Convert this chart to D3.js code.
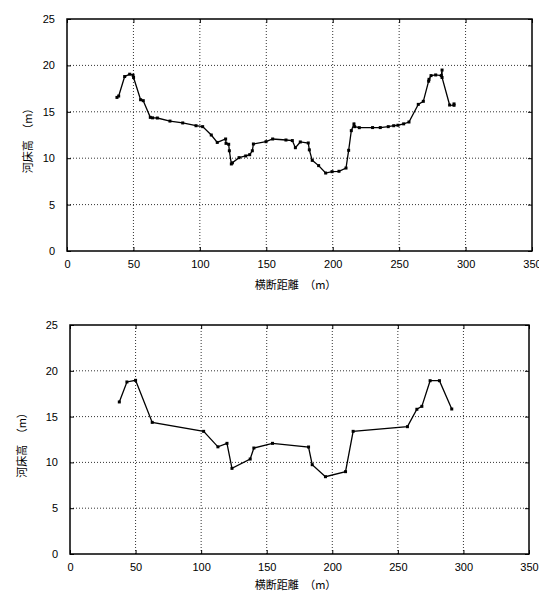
<html>
<head>
<meta charset="utf-8">
<title>河床高 横断図</title>
<script src="https://d3js.org/d3.v7.min.js"></script>
<style>
  body { margin: 0; background: #fff; }
  .tick text { font-family: "Liberation Sans", Arial, sans-serif; font-size: 11px; fill: #000; }
  .lbl { font-family: "Noto Sans CJK JP", sans-serif; font-size: 11px; fill: #000; }
</style>
</head>
<body>
<div id="chart"></div>
<script>

// measured survey points (upper panel, all points)
var topX = [37.6, 38.9, 43.4, 47.2, 49.7, 50.1, 55.4, 57.4, 62.7, 64.4, 68.0, 77.5, 87.1, 97.1, 102.1,
            108.6, 113.1, 119.4, 119.7, 121.7, 122.2, 123.7, 124.5, 129.5, 134.5, 137.5, 139.5, 140.3,
            149.8, 154.8, 164.8, 169.6, 171.9, 175.6, 181.6, 182.4, 184.6, 189.4, 194.7, 199.5, 204.7,
            210.0, 212.0, 214.0, 216.0, 216.5, 220.0, 230.0, 235.8, 241.8, 245.9, 249.1, 253.4, 257.4,
            264.4, 268.2, 272.2, 272.5, 274.0, 277.5, 281.7, 282.3, 282.3, 288.0, 291.3, 291.3];
var topY = [16.55, 16.7, 18.8, 19.05, 18.95, 18.7, 16.3, 16.2, 14.4, 14.35, 14.33, 14.0, 13.8, 13.5, 13.4,
            12.5, 11.7, 12.07, 11.6, 11.5, 10.8, 9.38, 9.5, 10.06, 10.24, 10.38, 10.8, 11.53,
            11.78, 12.07, 11.96, 11.9, 11.13, 11.75, 11.64, 10.9, 9.77, 9.2, 8.4, 8.55, 8.59,
            8.94, 10.85, 12.97, 13.69, 13.4, 13.29, 13.3, 13.3, 13.4, 13.5, 13.55, 13.7, 13.9,
            15.8, 16.13, 18.3, 18.5, 18.9, 18.97, 18.9, 19.5, 18.7, 15.73, 15.7, 15.85];

// lower panel, thinned points
var bottomX = [37.6, 43.4, 50.0, 62.7, 101.9, 112.8, 119.7, 123.5, 137.4, 140.2, 154.4, 181.9, 184.7,
               194.8, 210.1, 215.9, 257.3, 264.5, 268.3, 274.6, 281.7, 291.1];
var bottomY = [16.6, 18.78, 18.96, 14.37, 13.39, 11.7, 12.08, 9.35, 10.37, 11.57, 12.08, 11.68, 9.75,
               8.44, 8.99, 13.39, 13.9, 15.8, 16.12, 18.92, 18.92, 15.83];

var xTicks = [0, 50, 100, 150, 200, 250, 300, 350];
var yTicks = [0, 5, 10, 15, 20, 25];

var svg = d3.select("#chart").append("svg")
    .attr("width", 539)
    .attr("height", 593);

function drawPanel(box, xs, ys) {
    var x = d3.scaleLinear().domain([0, 350]).range([box.left, box.right]);
    var y = d3.scaleLinear().domain([0, 25]).range([box.bottom, box.top]);
    var g = svg.append("g");

    // grid
    g.selectAll(".gx").data(xTicks.slice(1, -1)).enter().append("line")
        .attr("x1", function(d) { return x(d); }).attr("x2", function(d) { return x(d); })
        .attr("y1", box.top).attr("y2", box.bottom)
        .attr("stroke", "#333").attr("stroke-width", 1).attr("stroke-dasharray", "1,2");
    g.selectAll(".gy").data(yTicks.slice(1, -1)).enter().append("line")
        .attr("y1", function(d) { return y(d); }).attr("y2", function(d) { return y(d); })
        .attr("x1", box.left).attr("x2", box.right)
        .attr("stroke", "#333").attr("stroke-width", 1).attr("stroke-dasharray", "1,2");

    // axes, ticks inward
    g.append("g").attr("transform", "translate(0," + box.bottom + ")")
        .call(d3.axisBottom(x).tickValues(xTicks).tickSize(-4).tickPadding(9))
        .call(function(a) { a.select(".domain").remove(); });
    g.append("g").attr("transform", "translate(0," + box.top + ")")
        .call(d3.axisTop(x).tickValues(xTicks).tickSize(-4).tickFormat(""))
        .call(function(a) { a.select(".domain").remove(); });
    g.append("g").attr("transform", "translate(" + box.left + ",0)")
        .call(d3.axisLeft(y).tickValues(yTicks).tickSize(-4).tickPadding(12))
        .call(function(a) { a.select(".domain").remove(); });
    g.append("g").attr("transform", "translate(" + box.right + ",0)")
        .call(d3.axisRight(y).tickValues(yTicks).tickSize(-4).tickFormat(""))
        .call(function(a) { a.select(".domain").remove(); });

    // frame
    g.append("rect")
        .attr("x", box.left).attr("y", box.top)
        .attr("width", box.right - box.left).attr("height", box.bottom - box.top)
        .attr("fill", "none").attr("stroke", "#000").attr("stroke-width", 1.5);

    var pts = xs.map(function(d, i) { return [d, ys[i]]; });
    g.append("path").datum(pts)
        .attr("fill", "none").attr("stroke", "#000").attr("stroke-width", 1.3)
        .attr("d", d3.line().x(function(d) { return x(d[0]); }).y(function(d) { return y(d[1]); }));
    g.selectAll(".pt").data(pts).enter().append("rect")
        .attr("x", function(d) { return x(d[0]) - 1.5; })
        .attr("y", function(d) { return y(d[1]) - 1.5; })
        .attr("width", 3).attr("height", 3).attr("fill", "#000");

    // labels
    g.append("text").attr("class", "lbl")
        .attr("x", (box.left + box.right) / 2 - 4).attr("y", box.bottom + box.xlab)
        .attr("text-anchor", "middle")
        .text("横断距離　（m）");
    g.append("text").attr("class", "lbl")
        .attr("transform", "translate(" + box.ylab + "," + ((box.top + box.bottom) / 2 + 3) + ") rotate(-90)")
        .attr("text-anchor", "middle")
        .text("河床高　（m）");
}

drawPanel({left: 67, right: 532, top: 19, bottom: 251, ylab: 32, xlab: 38}, topX, topY);
drawPanel({left: 70, right: 529, top: 325, bottom: 554, ylab: 26, xlab: 35}, bottomX, bottomY);

</script>
</body>
</html>
